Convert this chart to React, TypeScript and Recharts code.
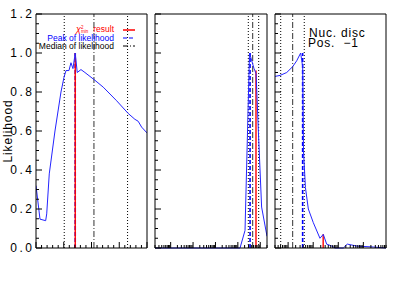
import { LineChart, Line, XAxis, YAxis, ReferenceLine, Legend } from "recharts";

// ---- data ----
const yTicks = [
  0, 0.05, 0.1, 0.15, 0.2, 0.25, 0.3, 0.35, 0.4, 0.45, 0.5, 0.55, 0.6, 0.65,
  0.7, 0.75, 0.8, 0.85, 0.9, 0.95, 1.0, 1.05, 1.1, 1.15, 1.2,
];
const linTicks = [0, 1, 2, 3, 4, 5, 6, 7, 8, 9, 10, 11, 12, 13, 14, 15, 16, 17, 18, 19, 20];

// panel 1 (linear x)
const p1X = [0, 0.72, 1.74, 1.93, 2.39, 3.42, 4.5, 5.04, 5.4, 5.94, 6.3, 6.66, 7.07, 7.43, 8.1, 8.82, 10.62, 12.11, 14.53, 16.61, 17.82, 18.41, 19.03, 20];
const p1Y = [0.32, 0.148, 0.14, 0.175, 0.38, 0.6, 0.8, 0.875, 0.91, 0.91, 0.95, 0.92, 1.0, 0.9, 0.915, 0.9, 0.86, 0.825, 0.755, 0.69, 0.66, 0.65, 0.62, 0.59];
const p1Marks = { lo: 5.09, best: 7.07, bestY: 1.0, peak: 7.07, peakY: 1.0, median: 10.44, hi: 16.5 };

// panel 2 (log x)
const p2X = [0.2, 1250, 2090, 3310, 5270, 6500, 8300, 11500, 20000];
const p2Y = [0, 0, 0.09, 1.0, 0.92, 0.895, 0.59, 0.21, 0.06];
const p2Marks = { lo: 2925, best: 6450, bestY: 0.91, peak: 3500, peakY: 1.0, median: 4600, hi: 8500 };

// panel 3 (log x)
const p3X = [0.3, 0.475, 0.88, 1.52, 2.2, 3.17, 3.5, 3.81, 4.1, 4.9, 6.4, 10.1, 18.6, 25.3, 34.4, 54.6, 74, 159, 229, 543, 2500, 8000];
const p3Y = [0.88, 0.885, 0.9, 0.93, 0.96, 1.0, 0.96, 0.93, 0.5, 0.31, 0.2, 0.13, 0.05, 0.07, 0.02, 0.01, 0.0, 0.0, 0.02, 0.01, 0.005, 0.0];
const p3Marks = { lo: 0.507, best: 25, bestY: 0.07, peak: 3.8, peakY: 1.0, median: 1.52, hi: 4.4 };

const legendLabels = ["result", "Peak of likelihood", "Median of likelihood"];
const legendColors = ["#ff0000", "#0000ff", "#000000"];
const legendDash = ["", "4 2", "5 2 1 2"];

const note = ["Nuc. disc", "Pos.  \u22121"];

// ---- helpers ----
type Pt = { x: number; y: number };
const zip = (xs: number[], ys: number[]): Pt[] => xs.map((x, i) => ({ x, y: ys[i] }));

const logTicks = (lo: number, hi: number) => {
  const out: number[] = [];
  for (let e = -2; e <= 5; e++) {
    for (let m = 1; m <= 9; m++) {
      const v = Number((m * Math.pow(10, e)).toPrecision(3));
      if (v >= lo * 0.999 && v <= hi * 1.001) out.push(v);
    }
  }
  return out;
};

const FONT = "'Liberation Sans', Arial, sans-serif";
const CURVE = "#2424ff";
const CH = 284; // chart height, plot from y=14 to y=248
const MARGIN = { top: 13, right: 0, bottom: 35, left: 0 };

const isMajorY = (v: number) => Math.abs(v * 5 - Math.round(v * 5)) < 1e-6;

const YTick = (side: "left" | "right", labels: boolean) => (props: any) => {
  const { x, y, payload } = props;
  const v = payload.value as number;
  const major = isMajorY(v);
  const len = major ? 6 : 3;
  const dir = side === "left" ? 1 : -1;
  return (
    <g>
      <line x1={x} x2={x + dir * len} y1={y} y2={y} stroke="#000" strokeWidth={1} />
      {labels && major && (
        <text
          x={x - 1.5}
          y={y}
          dy="0.36em"
          textAnchor="end"
          fontSize={12}
          letterSpacing={2.5}
          fontFamily={FONT}
          fill="#000"
        >
          {v.toFixed(1)}
        </text>
      )}
    </g>
  );
};

const XTick = (side: "top" | "bottom", kind: "lin" | "log") => (props: any) => {
  const { x, y, payload } = props;
  const v = payload.value as number;
  const major =
    kind === "lin" ? v % 5 === 0 : Math.abs(Math.log10(v) - Math.round(Math.log10(v))) < 1e-6;
  const len = major ? 6 : 3;
  const dir = side === "bottom" ? -1 : 1;
  return <line x1={x} x2={x} y1={y} y2={y + dir * len} stroke="#000" strokeWidth={1} />;
};

const LegendBox = () => (
  <div style={{ fontFamily: FONT, fontSize: 8.5, lineHeight: "8.4px" }}>
    {legendLabels.map((label, i) => (
      <div
        key={label}
        style={{ display: "flex", justifyContent: "flex-end", alignItems: "center", height: 8.4 }}
      >
        <span style={{ color: legendColors[i], whiteSpace: "nowrap" }}>
          {i === 0 && (
            <>
              <span style={{ fontStyle: "italic", fontSize: 9 }}>χ</span>
              <span
                style={{
                  display: "inline-flex",
                  flexDirection: "column",
                  fontSize: 4.5,
                  lineHeight: "4.2px",
                  verticalAlign: "middle",
                  marginRight: 5,
                }}
              >
                <span>2</span>
                <span>min</span>
              </span>
            </>
          )}
          {label}
        </span>
        <svg width={12} height={4} style={{ marginLeft: 9 }}>
          <line
            x1={0}
            x2={12}
            y1={2}
            y2={2}
            stroke={legendColors[i]}
            strokeWidth={i === 0 ? 1.5 : 1.2}
            strokeDasharray={legendDash[i] || undefined}
          />
        </svg>
      </div>
    ))}
  </div>
);

type Marks = typeof p1Marks;

const Panel = ({
  data,
  marks,
  kind,
  domain,
  ticks,
  width,
  leftW,
  withLegend,
}: {
  data: Pt[];
  marks: Marks;
  kind: "lin" | "log";
  domain: [number, number];
  ticks: number[];
  width: number;
  leftW: number;
  withLegend?: boolean;
}) => (
  <LineChart width={width} height={CH} margin={MARGIN}>
    <XAxis
      xAxisId="b"
      dataKey="x"
      type="number"
      scale={kind === "log" ? "log" : "linear"}
      domain={domain}
      allowDataOverflow
      ticks={ticks}
      interval={0}
      height={1}
      tickSize={0}
      tickMargin={0}
      tickLine={false}
      axisLine={{ stroke: "#000" }}
      tick={XTick("bottom", kind)}
    />
    <XAxis
      xAxisId="t"
      orientation="top"
      type="number"
      scale={kind === "log" ? "log" : "linear"}
      domain={domain}
      allowDataOverflow
      ticks={ticks}
      interval={0}
      height={1}
      tickSize={0}
      tickMargin={0}
      tickLine={false}
      axisLine={{ stroke: "#000" }}
      tick={XTick("top", kind)}
    />
    <YAxis
      yAxisId="l"
      type="number"
      domain={[0, 1.2]}
      ticks={yTicks}
      interval={0}
      width={leftW}
      tickSize={0}
      tickMargin={0}
      tickLine={false}
      axisLine={{ stroke: "#000" }}
      tick={YTick("left", withLegend === true)}
      label={
        withLegend
          ? {
              content: () => (
                <text
                  transform="translate(11.5,131) rotate(-90)"
                  textAnchor="middle"
                  fontSize={12}
                  letterSpacing={0.9}
                  fontFamily={FONT}
                  fill="#000"
                >
                  Likelihood
                </text>
              ),
            }
          : undefined
      }
    />
    <YAxis
      yAxisId="r"
      orientation="right"
      type="number"
      domain={[0, 1.2]}
      ticks={yTicks}
      interval={0}
      width={1}
      tickSize={0}
      tickMargin={0}
      tickLine={false}
      axisLine={{ stroke: "#000" }}
      tick={YTick("right", false)}
    />
    <ReferenceLine xAxisId="b" yAxisId="l" x={marks.lo} stroke="#000" strokeDasharray="1 2" />
    <ReferenceLine xAxisId="b" yAxisId="l" x={marks.hi} stroke="#000" strokeDasharray="1 2" />
    <ReferenceLine
      xAxisId="b"
      yAxisId="l"
      x={marks.median}
      stroke="#333"
      strokeDasharray="6 2 1 2"
    />
    <ReferenceLine
      xAxisId="b"
      yAxisId="l"
      segment={[
        { x: marks.peak, y: 0 },
        { x: marks.peak, y: marks.peakY },
      ]}
      stroke="#0000ff"
      strokeWidth={1.6}
      strokeDasharray="4 2"
    />
    <ReferenceLine
      xAxisId="b"
      yAxisId="l"
      segment={[
        { x: marks.best, y: 0 },
        { x: marks.best, y: marks.bestY },
      ]}
      stroke="#ff0000"
      strokeWidth={1.4}
    />
    <Line
      xAxisId="b"
      yAxisId="l"
      data={data}
      dataKey="y"
      type="linear"
      stroke={CURVE}
      strokeWidth={1}
      dot={false}
      isAnimationActive={false}
    />
    {withLegend && (
      <Legend
        content={LegendBox}
        layout="horizontal"
        verticalAlign="middle"
        align="center"
        wrapperStyle={{ left: 20, top: 25.5, width: 115, height: 26 }}
      />
    )}
  </LineChart>
);

export default function App() {
  return (
    <div
      style={{
        position: "absolute",
        left: 0,
        top: 0,
        width: 398,
        height: 284,
        background: "#fff",
        overflow: "hidden",
      }}
    >
      <div style={{ position: "absolute", left: 0, top: 0 }}>
        <Panel
          data={zip(p1X, p1Y)}
          marks={p1Marks}
          kind="lin"
          domain={[0, 20]}
          ticks={linTicks}
          width={148}
          leftW={36}
          withLegend
        />
      </div>
      <div style={{ position: "absolute", left: 154, top: 0 }}>
        <Panel
          data={zip(p2X, p2Y)}
          marks={p2Marks}
          kind="log"
          domain={[0.2, 20000]}
          ticks={logTicks(0.2, 20000)}
          width={114}
          leftW={1}
        />
      </div>
      <div style={{ position: "absolute", left: 274, top: 0 }}>
        <Panel
          data={zip(p3X, p3Y)}
          marks={p3Marks}
          kind="log"
          domain={[0.3, 8000]}
          ticks={logTicks(0.3, 8000)}
          width={113}
          leftW={1}
        />
      </div>
      <div
        style={{
          position: "absolute",
          left: 308,
          top: 29.3,
          fontFamily: FONT,
          fontSize: 12,
          lineHeight: "9.5px",
          letterSpacing: 0.8,
          whiteSpace: "pre",
          color: "#000",
        }}
      >
        {note.map((t, i) => (
          <div key={i} style={{ marginLeft: i === 0 ? 1 : 0 }}>
            {t}
          </div>
        ))}
      </div>
    </div>
  );
}
